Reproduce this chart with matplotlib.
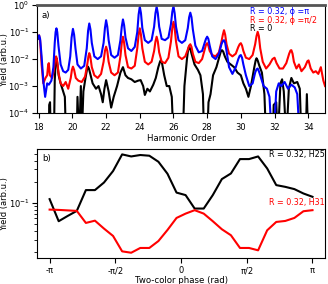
import matplotlib
matplotlib.use("Agg")
import matplotlib.pyplot as plt
import matplotlib.ticker as mticker
import numpy as np

plt.rcParams["font.family"] = ["DejaVu Sans"]
plt.rcParams["font.size"] = 6.2

# ---- panel a) harmonic spectra (log10 of yield read off the plot) ----
blue_h = [17.95, 18.02, 18.08, 18.17, 18.27, 18.38, 18.5, 18.6, 18.75, 18.87, 18.95, 19.0, 19.05, 19.1,
          19.17, 19.3, 19.45, 19.6, 19.75, 19.87, 19.95, 20.03, 20.1, 20.18, 20.3, 20.5, 20.7, 20.85,
          20.93, 21.0, 21.07, 21.15, 21.3, 21.5, 21.7, 21.85, 21.93, 22.0, 22.07, 22.15, 22.3, 22.5,
          22.7, 22.85, 22.93, 23.0, 23.07, 23.15, 23.3, 23.5, 23.7, 23.85, 23.93, 24.0, 24.07, 24.15,
          24.3, 24.5, 24.7, 24.85, 24.93, 25.0, 25.07, 25.15, 25.3, 25.5, 25.7, 25.85, 25.93, 26.0,
          26.07, 26.15, 26.3, 26.5, 26.7, 26.85, 26.93, 27.0, 27.07, 27.15, 27.3, 27.5, 27.7, 27.85,
          27.93, 28.0, 28.07, 28.15, 28.3, 28.5, 28.7, 28.85, 28.93, 29.0, 29.07, 29.15, 29.3, 29.5,
          29.7, 29.85, 29.93, 30.0, 30.07, 30.15, 30.3, 30.5, 30.7, 30.85, 30.93, 31.0, 31.07, 31.15,
          31.35, 31.55, 31.7, 31.8, 31.95, 32.1, 32.25, 32.4, 32.6, 32.8, 33.0, 33.2, 33.35, 33.5, 35.0]
blue_log = [-1.25, -1.12, -1.25, -1.9, -2.8, -3.4, -2.9, -2.95, -2.8, -2.3, -1.4, -1.0, -0.86, -1.0,
            -1.5, -2.2, -2.45, -2.5, -2.4, -1.9, -1.2, -0.88, -1.1, -1.6, -2.2, -2.35, -2.25, -1.6,
            -0.95, -0.68, -0.9, -1.4, -1.9, -2.0, -1.9, -1.4, -0.85, -0.56, -0.8, -1.3, -1.85, -1.95,
            -1.85, -1.3, -0.8, -0.53, -0.75, -1.2, -1.6, -1.7, -1.55, -1.0, -0.35, -0.06, -0.3, -0.85,
            -1.3, -1.4, -1.3, -0.8, -0.3, -0.06, -0.3, -0.8, -1.25, -1.3, -1.2, -0.7, -0.25, -0.04,
            -0.3, -0.8, -1.3, -1.4, -1.3, -0.85, -0.45, -0.28, -0.45, -0.9, -1.5, -1.75, -1.7, -1.4,
            -1.25, -1.17, -1.25, -1.5, -1.9, -2.0, -1.8, -1.45, -1.33, -1.3, -1.4, -1.7, -2.3, -2.55,
            -2.3, -2.0, -1.88, -1.85, -1.95, -2.2, -2.6, -3.0, -2.9, -2.5, -2.38, -2.35, -2.45, -2.6,
            -3.0, -3.1, -3.4, -4.5, -5.0, -3.2, -2.9, -3.0, -2.85, -3.1, -2.95, -3.05, -3.3, -5.0, -5.0]

red_h = [17.95, 18.02, 18.08, 18.17, 18.27, 18.4, 18.5, 18.56, 18.6, 18.66, 18.8, 18.92, 18.98, 19.03,
         19.08, 19.17, 19.3, 19.45, 19.6, 19.75, 19.9, 19.97, 20.03, 20.1, 20.2, 20.35, 20.55, 20.75,
         20.88, 20.95, 21.0, 21.06, 21.15, 21.3, 21.5, 21.7, 21.85, 21.93, 22.0, 22.07, 22.15, 22.3,
         22.5, 22.7, 22.85, 22.93, 23.0, 23.07, 23.15, 23.3, 23.5, 23.7, 23.85, 23.93, 24.0, 24.07,
         24.15, 24.3, 24.5, 24.7, 24.85, 24.93, 25.0, 25.07, 25.15, 25.3, 25.5, 25.7, 25.85, 25.93,
         26.0, 26.07, 26.15, 26.3, 26.5, 26.7, 26.85, 26.93, 27.0, 27.07, 27.15, 27.3, 27.5, 27.7,
         27.85, 27.93, 28.0, 28.07, 28.15, 28.3, 28.5, 28.7, 28.85, 28.93, 29.0, 29.07, 29.15, 29.3,
         29.5, 29.7, 29.85, 29.93, 30.0, 30.07, 30.15, 30.3, 30.5, 30.7, 30.85, 30.93, 31.0, 31.07,
         31.15, 31.3, 31.5, 31.7, 31.88, 32.0, 32.12, 32.3, 32.5, 32.7, 32.87, 32.95, 33.0, 33.07,
         33.15, 33.3, 33.45, 33.6, 33.8, 33.95, 34.02, 34.15, 34.3, 34.45, 34.6, 34.75, 34.9, 35.0]
red_log = [-1.25, -1.12, -1.3, -2.2, -2.9, -2.7, -2.6, -2.2, -2.15, -2.6, -2.7, -2.3, -2.0, -1.9,
           -2.0, -2.5, -2.9, -3.0, -2.85, -3.1, -2.7, -2.4, -2.28, -2.4, -2.7, -2.8, -2.85, -2.65,
           -2.2, -1.9, -1.78, -1.9, -2.3, -2.6, -2.7, -2.55, -2.1, -1.7, -1.54, -1.7, -2.1, -2.5,
           -2.6, -2.5, -1.9, -1.4, -1.17, -1.4, -1.85, -2.3, -2.35, -2.25, -1.6, -1.1, -0.86, -1.1,
           -1.6, -2.1, -2.2, -2.1, -1.7, -1.35, -1.17, -1.35, -1.75, -2.1, -2.15, -1.95, -1.35, -0.85,
           -0.62, -0.85, -1.35, -1.9, -2.0, -1.9, -1.65, -1.5, -1.45, -1.55, -1.8, -2.1, -2.15, -2.0,
           -1.65, -1.47, -1.41, -1.5, -1.7, -1.85, -1.9, -1.75, -1.35, -1.1, -0.93, -1.1, -1.45, -1.8,
           -1.9, -1.8, -1.55, -1.45, -1.41, -1.5, -1.7, -1.95, -2.0, -1.85, -1.45, -1.15, -0.99, -1.15,
           -1.6, -2.1, -2.35, -2.2, -2.0, -1.95, -2.15, -2.35, -2.35, -2.15, -1.8, -1.68, -1.67, -1.8,
           -2.1, -2.35, -2.2, -2.45, -2.3, -2.08, -2.05, -2.35, -2.5, -2.45, -2.55, -2.3, -2.8, -3.0]

black_h = [17.95, 18.6, 18.62, 18.67, 18.72, 18.9, 18.95, 19.0, 19.05, 19.1, 19.18, 19.3, 19.45, 19.55,
           19.62, 20.25, 20.3, 20.4, 20.5, 20.55, 20.65, 20.75, 20.86, 20.92, 20.98, 21.08, 21.2, 21.4,
           21.55, 21.7, 21.8, 21.9, 22.0, 22.15, 22.3, 22.45, 22.65, 22.85, 23.0, 23.15, 23.3, 23.5,
           23.7, 23.9, 24.05, 24.2, 24.3, 24.45, 24.6, 24.8, 24.95, 25.1, 25.2, 25.25, 25.32, 25.45,
           25.6, 25.75, 25.9, 26.0, 26.55, 26.65, 26.8, 26.87, 26.92, 26.98, 27.05, 27.25, 27.45, 27.6,
           27.75, 27.82, 28.0, 28.08, 28.2, 28.35, 28.55, 28.75, 28.82, 28.88, 28.95, 29.05, 29.2, 29.4,
           29.6, 29.8, 30.0, 30.15, 30.3, 30.45, 30.6, 30.8, 30.88, 30.93, 31.0, 31.1, 31.25, 31.4,
           31.5, 31.9, 31.95, 32.1, 32.2, 32.35, 32.45, 32.55, 32.7, 32.85, 33.0, 33.15, 33.35, 33.5,
           33.6, 33.85, 33.92, 34.0, 35.0]
black_log = [-5.0, -5.0, -3.7, -3.6, -5.0, -5.0, -2.8, -2.15, -1.97, -2.15, -2.6, -2.9, -3.2, -3.4,
             -5.0, -5.0, -3.4, -5.0, -3.0, -5.0, -3.2, -2.8, -2.4, -2.28, -2.35, -2.6, -2.9, -3.1,
             -3.0, -3.3, -3.6, -3.1, -2.78, -3.2, -3.8, -3.4, -3.0, -2.5, -2.3, -2.6, -2.7, -2.75,
             -2.85, -2.8, -2.78, -3.0, -3.33, -3.1, -3.2, -2.95, -2.7, -2.3, -2.1, -2.04, -2.15, -2.6,
             -3.0, -3.0, -3.4, -5.0, -5.0, -3.0, -2.0, -1.65, -1.54, -1.6, -1.75, -2.2, -2.4, -2.6,
             -3.3, -5.0, -5.0, -3.6, -3.3, -2.6, -2.3, -1.85, -1.7, -1.67, -1.72, -1.9, -2.1, -2.2,
             -2.3, -2.5, -2.6, -2.9, -3.1, -3.4, -3.0, -2.3, -2.05, -1.97, -2.05, -2.25, -2.5, -3.3,
             -5.0, -5.0, -3.7, -3.6, -5.0, -2.9, -2.75, -3.2, -5.0, -3.1, -2.7, -2.9, -2.85, -3.1,
             -5.0, -5.0, -3.3, -5.0, -5.0]

# ---- panel b) phase scans ----
phase = np.linspace(-np.pi, np.pi, 30)
h25 = [0.113, 0.0548, 0.0652, 0.0769, 0.152, 0.152, 0.195, 0.284, 0.49, 0.458, 0.48, 0.469,
       0.385, 0.26, 0.14, 0.129, 0.083, 0.083, 0.129, 0.218, 0.262, 0.42, 0.42, 0.458, 0.309,
       0.179, 0.169, 0.157, 0.136, 0.122]
h31 = [0.0802, 0.0794, 0.0781, 0.0769, 0.0518, 0.0558, 0.043, 0.0338, 0.0204, 0.0195, 0.0228,
       0.0228, 0.0286, 0.0411, 0.061, 0.0703, 0.0787, 0.0703, 0.0548, 0.0421, 0.0346, 0.0228,
       0.0228, 0.0211, 0.0407, 0.0535, 0.0553, 0.061, 0.076, 0.0787]

fig = plt.figure(figsize=(3.28, 2.84), dpi=100)
ax1 = fig.add_axes([0.113, 0.602, 0.878, 0.380])
ax2 = fig.add_axes([0.113, 0.0915, 0.878, 0.383])

ax1.plot(black_h, 10.0 ** np.array(black_log), color="black", lw=1.5)
ax1.plot(red_h, 10.0 ** np.array(red_log), color="red", lw=1.5)
ax1.plot(blue_h, 10.0 ** np.array(blue_log), color="blue", lw=1.5)
ax1.set_yscale("log")
ax1.set_ylim(1e-4, 1)
ax1.set_xlim(17.9, 35.0)
ax1.set_xticks(range(18, 35, 2))
ax1.yaxis.set_minor_locator(mticker.NullLocator())
ax1.tick_params(labelsize=6)
ax1.tick_params(axis="y", pad=2)
ax1.set_xlabel("Harmonic Order", labelpad=1.5)
ax1.spines["top"].set_color("#555555")
ax1.spines["top"].set_linewidth(2)
ax1.text(0.017, 0.905, "a)", transform=ax1.transAxes, va="center", ha="left")
ax1.text(0.74, 0.937, "R = 0.32, ϕ =π", color="blue", transform=ax1.transAxes, va="center", fontsize=5.8)
ax1.text(0.74, 0.859, "R = 0.32, ϕ =π/2", color="red", transform=ax1.transAxes, va="center", fontsize=5.8)
ax1.text(0.74, 0.784, "R = 0", color="black", transform=ax1.transAxes, va="center", fontsize=5.8)

ax2.plot(phase, h25, color="black", lw=1.5)
ax2.plot(phase, h31, color="red", lw=1.5)
ax2.set_yscale("log")
ax2.set_ylim(0.0164, 0.58)
ax2.set_xlim(-np.pi - 0.3, np.pi + 0.3)
ax2.set_xticks([-np.pi, -np.pi / 2, 0, np.pi / 2, np.pi])
ax2.set_xticklabels(["-π", "-π/2", "0", "π/2", "π"])
ax2.yaxis.set_minor_formatter(mticker.NullFormatter())
ax2.tick_params(labelsize=6)
ax2.tick_params(axis="y", pad=2)
ax2.tick_params(axis="x", pad=2.5)
ax2.set_xlabel("Two-color phase (rad)", labelpad=0.5)
ax2.text(0.017, 0.915, "b)", transform=ax2.transAxes, va="center", ha="left")
ax2.text(0.999, 0.95, "R = 0.32, H25", color="black", transform=ax2.transAxes, va="center", ha="right", fontsize=5.8)
ax2.text(0.999, 0.507, "R = 0.32, H31", color="red", transform=ax2.transAxes, va="center", ha="right", fontsize=5.8)

fig.text(0.014, 0.789, "Yield (arb.u.)", rotation=90, va="center", ha="center", fontsize=6)
fig.text(0.014, 0.282, "Yield (arb.u.)", rotation=90, va="center", ha="center", fontsize=6)

fig.savefig("out.png", dpi=100)
